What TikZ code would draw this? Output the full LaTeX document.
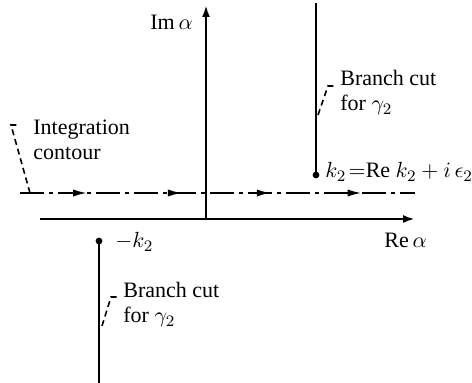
\documentclass[tikz,border=0pt]{standalone}
\usepackage{fontspec}
\setmainfont{Liberation Serif}
\usepackage{tikz}
\usetikzlibrary{arrows.meta, positioning, decorations.markings}

\begin{document}
\begin{tikzpicture}[
		x=0.5pt, y=-0.5pt,
		axisline/.style={line width=1.2pt, -{Latex[length=6pt, width=4pt]}},
		cutline/.style={line width=1.3pt},
		cutdot/.style={circle, fill, inner sep=0pt, minimum size=3.4pt},
		contourline/.style={line width=1pt, dash pattern=on 12pt off 2.5pt on 2pt off 2.5pt,
			postaction={decorate},
			decoration={markings,
				mark=at position 0.17 with {\arrow{Latex[length=7pt, width=3.6pt]}},
				mark=at position 0.41 with {\arrow{Latex[length=7pt, width=3.6pt]}},
				mark=at position 0.635 with {\arrow{Latex[length=7pt, width=3.6pt]}},
				mark=at position 0.865 with {\arrow{Latex[length=7pt, width=3.6pt]}}}},
		leader/.style={line width=0.8pt, dash pattern=on 3pt off 2pt},
		label/.style={font=\fontsize{11}{12.5}\selectfont, align=left, inner sep=0pt}
	]

	\useasboundingbox (0,0) rectangle (472,383);

	\coordinate (origin) at (206,219);
	\coordinate (releft) at (40,219);
	\coordinate (reright) at (415,219);
	\coordinate (imtop) at (206,5);
	\coordinate (cleft) at (20,193);
	\coordinate (cright) at (415,193);

	\node[cutdot] (kplus) at (316,175) {};
	\coordinate (cuttop) at (316,3);
	\node[cutdot] (kminus) at (99,241) {};
	\coordinate (cutbottom) at (99,383);

	\draw[axisline] (releft) -- (reright);
	\draw[axisline] (origin) -- (imtop);
	\draw[contourline] (cleft) -- (cright);
	\draw[cutline] (kplus.center) -- (cuttop);
	\draw[cutline] (kminus.center) -- (cutbottom);

	\node[label, anchor=east] (imlabel) at (193,22) {Im\,$\alpha$};
	\node[label, anchor=west] (relabel) at (384,240) {Re\,$\alpha$};
	\node[label, anchor=west] (kminuslabel) at (115,242) {$-k_2$};
	\node[label, anchor=west] (kpluslabel) at (325,172) {$k_2\!=$Re $k_2+i\,\epsilon_2$};

	\node[label, anchor=west] (uppercut) at (340,93) {Branch cut\\for $\gamma_2$};
	\node[label, anchor=west] (lowercut) at (123,305) {Branch cut\\for $\gamma_2$};
	\node[label, anchor=west] (contourlabel) at (33,140) {Integration\\contour};

	\coordinate (uhook) at (328,86);
	\coordinate (uhookend) at (334,86);
	\coordinate (ufoot) at (318,115);
	\draw[leader] (ufoot) -- (uhook) -- (uhookend);

	\coordinate (lhook) at (111,297);
	\coordinate (lhookend) at (117,297);
	\coordinate (lfoot) at (102,326);
	\draw[leader] (lfoot) -- (lhook) -- (lhookend);

	\coordinate (chook) at (11,125);
	\coordinate (chookend) at (17,125);
	\coordinate (cfoot) at (30,193);
	\draw[leader] (cfoot) -- (chook) -- (chookend);

\end{tikzpicture}
\end{document}
